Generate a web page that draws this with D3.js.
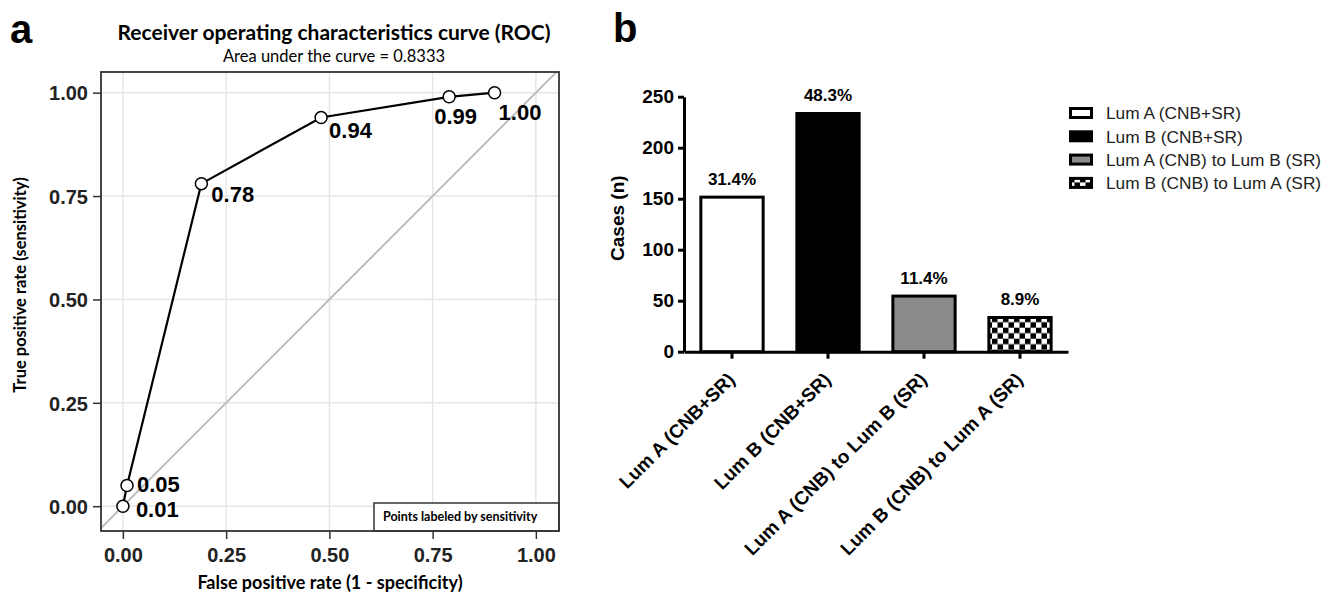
<!DOCTYPE html>
<html>
<head>
<meta charset="utf-8">
<script src="https://cdn.jsdelivr.net/npm/d3@7"></script>
<style>
  body { margin: 0; background: #fff; }
  svg { display: block; }
</style>
</head>
<body>
<div id="chart"></div>
<script>
// ROC points (panel a)
const rocFpr = [0.00, 0.01, 0.19, 0.48, 0.79, 0.90];
const rocTpr = [0.00, 0.05, 0.78, 0.94, 0.99, 1.00];
const rocLabels = ["0.01", "0.05", "0.78", "0.94", "0.99", "1.00"];
const rocTicks = [0, 0.25, 0.5, 0.75, 1];
// label nudges in px (dx, baseline dy) - like ggrepel placed them
const rocLabelNudge = [[13, 11], [10, 6], [10, 18], [8, 21], [-15, 27], [4, 27]];

// case counts (panel b)
const caseCategories = ["Lum A (CNB+SR)", "Lum B (CNB+SR)", "Lum A (CNB) to Lum B (SR)", "Lum B (CNB) to Lum A (SR)"];
const caseCounts = [153, 235, 56, 35];
const casePercents = ["31.4%", "48.3%", "11.4%", "8.9%"];
const caseTicks = [0, 50, 100, 150, 200, 250];
const caseFills = ["#ffffff", "#000000", "#8a8a8a", "url(#checker)"];

const W = 1323, H = 593;
const svg = d3.select("#chart").append("svg")
    .attr("width", W)
    .attr("height", H);

const defs = svg.append("defs");
// checkerboard fill for 4th bar
const pat = defs.append("pattern")
    .attr("id", "checker")
    .attr("width", 11).attr("height", 11)
    .attr("patternUnits", "userSpaceOnUse");
pat.append("rect").attr("width", 11).attr("height", 11).attr("fill", "#fff");
pat.append("rect").attr("width", 5.5).attr("height", 5.5).attr("fill", "#000");
pat.append("rect").attr("x", 5.5).attr("y", 5.5).attr("width", 5.5).attr("height", 5.5).attr("fill", "#000");

const calibri = "Lato, 'Open Sans', sans-serif";
const arial = "'Liberation Sans', Arial, sans-serif";

// panel letters
svg.append("text").attr("x", 10).attr("y", 43)
    .style("font", `bold 40px ${arial}`).text("a");
svg.append("text").attr("x", 613).attr("y", 42)
    .style("font", `bold 40px ${arial}`).text("b");

/* ---------------- panel a : ROC ---------------- */
var aLeft = 101, aTop = 72, aW = 458, aH = 459;
const ga = svg.append("g").attr("transform", `translate(${aLeft},${aTop})`);

var x = d3.scaleLinear().domain([-0.053, 1.056]).range([0, aW]);
var y = d3.scaleLinear().domain([-0.06, 1.05]).range([aH, 0]);

defs.append("clipPath").attr("id", "clipA")
    .append("rect").attr("width", aW).attr("height", aH);

// grid
ga.append("g").selectAll("line.gx").data(rocTicks).enter().append("line")
    .attr("x1", d => x(d)).attr("x2", d => x(d))
    .attr("y1", 0).attr("y2", aH)
    .attr("stroke", "#e6e6e6").attr("stroke-width", 1.5);
ga.append("g").selectAll("line.gy").data(rocTicks).enter().append("line")
    .attr("y1", d => y(d)).attr("y2", d => y(d))
    .attr("x1", 0).attr("x2", aW)
    .attr("stroke", "#e6e6e6").attr("stroke-width", 1.5);

// chance diagonal
ga.append("line")
    .attr("clip-path", "url(#clipA)")
    .attr("x1", x(-0.1)).attr("y1", y(-0.1))
    .attr("x2", x(1.1)).attr("y2", y(1.1))
    .attr("stroke", "#bdbdbd").attr("stroke-width", 2);

// roc curve
const rocPts = rocFpr.map((f, i) => ({fpr: f, tpr: rocTpr[i], label: rocLabels[i], nudge: rocLabelNudge[i]}));
ga.append("path")
    .datum(rocPts)
    .attr("fill", "none")
    .attr("stroke", "#000")
    .attr("stroke-width", 2.2)
    .attr("d", d3.line().x(d => x(d.fpr)).y(d => y(d.tpr)));

ga.selectAll("circle.pt").data(rocPts).enter().append("circle")
    .attr("cx", d => x(d.fpr)).attr("cy", d => y(d.tpr))
    .attr("r", 6)
    .attr("fill", "#fff").attr("stroke", "#000").attr("stroke-width", 1.5);

ga.selectAll("text.lbl").data(rocPts).enter().append("text")
    .attr("x", d => x(d.fpr) + d.nudge[0])
    .attr("y", d => y(d.tpr) + d.nudge[1])
    .style("font", `bold 22px ${arial}`)
    .attr("fill", "#000")
    .text(d => d.label);

// "Points labeled by sensitivity" box
const boxW = 185, boxH = 28;
ga.append("rect")
    .attr("x", aW - boxW).attr("y", aH - boxH)
    .attr("width", boxW).attr("height", boxH)
    .attr("fill", "#fff").attr("stroke", "#333").attr("stroke-width", 1.5);
ga.append("text")
    .attr("x", aW - boxW + 9).attr("y", aH - boxH + 18)
    .style("font", `bold 12.5px ${calibri}`)
    .text("Points labeled by sensitivity");

// panel border
ga.append("rect").attr("width", aW).attr("height", aH)
    .attr("fill", "none").attr("stroke", "#333").attr("stroke-width", 1.8);

// axes
const axA = ga.append("g").attr("transform", `translate(0,${aH})`)
    .call(d3.axisBottom(x).tickValues(rocTicks).tickFormat(d3.format(".2f")).tickSize(8).tickPadding(6));
const ayA = ga.append("g")
    .call(d3.axisLeft(y).tickValues(rocTicks).tickFormat(d3.format(".2f")).tickSize(8).tickPadding(5));
[axA, ayA].forEach(g => {
    g.select(".domain").remove();
    g.selectAll(".tick line").attr("stroke", "#333").attr("stroke-width", 1.5);
    g.selectAll(".tick text").style("font", `bold 20px ${arial}`).attr("fill", "#222");
});
axA.selectAll(".tick text").attr("dy", "0.85em");
ayA.selectAll(".tick text").attr("dy", "0.36em");

// titles
svg.append("text").attr("x", 334).attr("y", 40).attr("text-anchor", "middle")
    .style("font", `bold 21px ${calibri}`)
    .text("Receiver operating characteristics curve (ROC)");
svg.append("text").attr("x", 334).attr("y", 62).attr("text-anchor", "middle")
    .style("font", `16.5px ${calibri}`)
    .text("Area under the curve = 0.8333");
svg.append("text").attr("x", aLeft + aW / 2).attr("y", 589).attr("text-anchor", "middle")
    .style("font", `bold 18px ${calibri}`)
    .text("False positive rate (1 - specificity)");
svg.append("text")
    .attr("transform", "translate(26,285) rotate(-90)")
    .attr("text-anchor", "middle")
    .style("font", `bold 16.5px ${calibri}`)
    .text("True positive rate (sensitivity)");

/* ---------------- panel b : bars ---------------- */
var bLeft = 684, bTop = 96.7, bW = 384, bH = 255;
const gb = svg.append("g").attr("transform", `translate(${bLeft},${bTop})`);

var xb = d3.scaleBand().domain(caseCategories).range([0, bW])
    .paddingInner(0.32).paddingOuter(0.16);
var yb = d3.scaleLinear().domain([0, 250]).range([bH, 0]);

gb.selectAll("rect.bar").data(caseCategories).enter().append("rect")
    .attr("x", d => xb(d) + 1.5)
    .attr("y", (d, i) => yb(caseCounts[i]) + 1.5)
    .attr("width", xb.bandwidth() - 3)
    .attr("height", (d, i) => bH - yb(caseCounts[i]) - 1.5)
    .attr("fill", (d, i) => caseFills[i])
    .attr("stroke", "#000").attr("stroke-width", 3);

gb.selectAll("text.pct").data(caseCategories).enter().append("text")
    .attr("x", d => xb(d) + xb.bandwidth() / 2)
    .attr("y", (d, i) => yb(caseCounts[i]) - 11)
    .attr("text-anchor", "middle")
    .style("font", `bold 17px ${arial}`)
    .text((d, i) => casePercents[i]);

const axB = gb.append("g").attr("transform", `translate(0,${bH})`)
    .call(d3.axisBottom(xb).tickSize(7).tickSizeOuter(0));
axB.selectAll(".tick text")
    .attr("text-anchor", "end")
    .attr("dy", null).attr("y", null)
    .attr("transform", "translate(4,29) rotate(-45)")
    .style("font", `bold 19px ${arial}`).attr("fill", "#000");
const ayB = gb.append("g")
    .call(d3.axisLeft(yb).tickValues(caseTicks).tickSize(6).tickSizeOuter(0).tickPadding(4));
ayB.selectAll(".tick text").style("font", `bold 19px ${arial}`).attr("fill", "#000");
[axB, ayB].forEach(g => {
    g.select(".domain").attr("stroke", "#000").attr("stroke-width", 3);
    g.selectAll(".tick line").attr("stroke", "#000").attr("stroke-width", 3);
});

svg.append("text")
    .attr("transform", `translate(624,${bTop + bH / 2 - 6}) rotate(-90)`)
    .attr("text-anchor", "middle")
    .style("font", `bold 19px ${arial}`)
    .text("Cases (n)");

// legend
const leg = svg.append("g").attr("transform", "translate(1069,107)");
const legRow = leg.selectAll("g").data(caseCategories).enter().append("g")
    .attr("transform", (d, i) => `translate(0,${i * 23.3})`);
legRow.append("rect")
    .attr("x", 1.5).attr("y", 1.5).attr("width", 21).attr("height", 9)
    .attr("fill", (d, i) => caseFills[i])
    .attr("stroke", "#000").attr("stroke-width", 3);
legRow.append("text")
    .attr("x", 37).attr("y", 6).attr("dy", "0.36em")
    .style("font", `17.3px ${arial}`).attr("fill", "#222")
    .text(d => d);
</script>
</body>
</html>
